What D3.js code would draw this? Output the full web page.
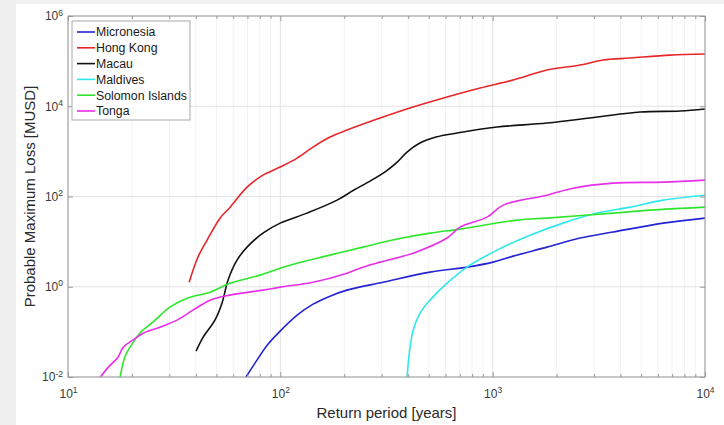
<!DOCTYPE html>
<html><head><meta charset="utf-8">
<script src="https://cdn.jsdelivr.net/npm/d3@7"></script>
<style>
body{margin:0;background:#f0f0f0;}
svg{display:block;font-family:"Liberation Sans",Arial,Helvetica,sans-serif;}
</style>
</head><body>
<svg id="chart" width="724" height="425"></svg>
<script>
// ---------- DATA ----------
const seriesNames = ["Micronesia","Hong Kong","Macau","Maldives","Solomon Islands","Tonga"];
const seriesColors = ["#2424d4","#e8262a","#111111","#2ee8ee","#2ee62e","#e82ee8"];

// [return period (years), probable maximum loss (MUSD)]
const micronesia = [[68.9,0.01],[77.6,0.0236],[86.5,0.05],[99.8,0.104],[120,0.234],[142.6,0.411],[171.4,0.619],[206,0.841],[305,1.26],[507,2.11],[757,2.72],[1004,3.51],[1248,4.77],[1803,7.55],[2580,12.0],[3690,16.3],[6350,25.7],[10000,33.2]];
const hongKong = [[37.2,1.26],[40.9,4.5],[45.2,10.8],[52,33],[58,58],[69.7,161],[82.8,298],[99.8,449],[120,710],[142.6,1245],[171.4,2073],[206,2966],[295,5475],[422,9600],[610,16000],[873,25300],[1248,38100],[1803,63500],[2580,82000],[3313,106000],[4439,117000],[6850,136000],[10000,144000]];
const macau = [[40.1,0.0373],[43.3,0.0762],[49.2,0.182],[53.1,0.432],[56.7,1.40],[62.5,3.89],[69.7,7.55],[82.8,15.4],[99.8,25.7],[133.6,42.8],[185,83],[222,139],[267,225],[315,366],[355,579],[395,965],[450,1489],[541,2075],[679,2545],[1049,3460],[1803,4240],[3104,5760],[4944,7430],[7632,7830],[10000,8670]];
const maldives = [[395,0.01],[404,0.0304],[413,0.0655],[422,0.109],[455,0.260],[507,0.505],[610,1.20],[757,2.72],[1049,6.48],[1500,13.9],[2146,25.7],[3104,42.9],[4439,58.2],[6350,83.2],[10000,107]];
const solomonIslands = [[17.6,0.01],[18.5,0.0275],[19.6,0.0458],[21.8,0.0936],[25.1,0.164],[30.2,0.353],[36.4,0.558],[46.7,0.759],[58,1.20],[80.2,1.81],[99.8,2.58],[120,3.33],[171.4,5.02],[245,7.55],[355,11.4],[507,15.4],[702,18.9],[1303,30.0],[1803,33.2],[3690,42.9],[5510,49.9],[10000,58.2]];
const tonga = [[14.2,0.01],[15.8,0.0183],[17.2,0.0275],[18.2,0.0458],[20.2,0.0655],[22.6,0.0936],[27.1,0.127],[32.6,0.182],[38.8,0.303],[46.7,0.505],[58,0.652],[82.8,0.841],[99.8,0.98],[142.6,1.26],[206,2.00],[245,2.72],[295,3.51],[422,5.56],[610,12.0],[702,21.0],[941,34.9],[1120,64.4],[1803,107],[2393,153],[3690,198],[6350,208],[10000,231]];

const seriesData = [micronesia, hongKong, macau, maldives, solomonIslands, tonga];

const xTickValues = [10,100,1000,10000];
const xTickExponents = ["1","2","3","4"];
const yTickValues = [1e-2,1e0,1e2,1e4,1e6];
const yTickExponents = ["-2","0","2","4","6"];
const xMinorTicks = [];
[10,100,1000].forEach(d => { for (let k=2;k<=9;k++) xMinorTicks.push(d*k); });

const xLabel = "Return period [years]";
const yLabel = "Probable Maximum Loss [MUSD]";

// ---------- LAYOUT ----------
const W = 724, H = 425;
const L = 68, R = 705, T = 16, B = 377;
const svg = d3.select("#chart");

svg.append("rect").attr("x",16).attr("y",4).attr("width",W-16).attr("height",H-4).attr("fill","#ffffff");

const x = d3.scaleLog().domain([10,1e4]).range([L,R]);
const y = d3.scaleLog().domain([1e-2,1e6]).range([B,T]);

// grid
const grid = svg.append("g");
grid.selectAll("line.xmin").data(xMinorTicks).enter().append("line")
  .attr("x1",d=>x(d)).attr("x2",d=>x(d)).attr("y1",T).attr("y2",B)
  .attr("stroke","#f2f2f2").attr("stroke-width",1);
grid.selectAll("line.xmaj").data(xTickValues).enter().append("line")
  .attr("x1",d=>x(d)).attr("x2",d=>x(d)).attr("y1",T).attr("y2",B)
  .attr("stroke","#e3e3e3").attr("stroke-width",1);
grid.selectAll("line.ymaj").data(yTickValues).enter().append("line")
  .attr("x1",L).attr("x2",R).attr("y1",d=>y(d)).attr("y2",d=>y(d))
  .attr("stroke","#e3e3e3").attr("stroke-width",1);

// lines
svg.append("defs").append("clipPath").attr("id","clip")
  .append("rect").attr("x",L).attr("y",T).attr("width",R-L).attr("height",B-T);
const line = d3.line().x(d=>x(d[0])).y(d=>y(d[1])).curve(d3.curveCatmullRom.alpha(0.5));
const lines = svg.append("g").attr("clip-path","url(#clip)");
seriesData.forEach((s,i) => {
  lines.append("path").datum(s).attr("d",line).attr("fill","none")
    .attr("stroke",seriesColors[i]).attr("stroke-width",1.6).attr("stroke-linejoin","round");
});

// axes
const axisColor = "#9a9a9a";
function styleAxis(g){
  g.select(".domain").remove();
  g.selectAll(".tick line").attr("stroke",axisColor);
}
function supLabels(g, exps, vals){
  g.selectAll(".tick text").each(function(d){
    const i = vals.indexOf(d);
    const t = d3.select(this);
    t.text("10").attr("fill","#3a3a3a").attr("font-size","12px");
    t.append("tspan").attr("dy","-0.55em").attr("font-size","8.5px").text(exps[i]);
  });
}
const xAxisB = svg.append("g").attr("transform",`translate(0,${B})`)
  .call(d3.axisBottom(x).tickValues(xTickValues).tickSize(-5).tickPadding(12).tickFormat(()=>"x"));
styleAxis(xAxisB); supLabels(xAxisB, xTickExponents, xTickValues);
const xMinB = svg.append("g").attr("transform",`translate(0,${B})`)
  .call(d3.axisBottom(x).tickValues(xMinorTicks).tickSize(-3).tickFormat(""));
styleAxis(xMinB);
const xAxisT = svg.append("g").attr("transform",`translate(0,${T})`)
  .call(d3.axisTop(x).tickValues(xTickValues).tickSize(-5).tickFormat(""));
styleAxis(xAxisT);
const xMinT = svg.append("g").attr("transform",`translate(0,${T})`)
  .call(d3.axisTop(x).tickValues(xMinorTicks).tickSize(-3).tickFormat(""));
styleAxis(xMinT);
const yAxisL = svg.append("g").attr("transform",`translate(${L},0)`)
  .call(d3.axisLeft(y).tickValues(yTickValues).tickSize(-5).tickPadding(5).tickFormat(()=>"x"));
styleAxis(yAxisL); supLabels(yAxisL, yTickExponents, yTickValues);
const yAxisR = svg.append("g").attr("transform",`translate(${R},0)`)
  .call(d3.axisRight(y).tickValues(yTickValues).tickSize(-5).tickFormat(""));
styleAxis(yAxisR);
svg.selectAll(".tick text").attr("font-family",null);

// box
svg.append("rect").attr("x",L).attr("y",T).attr("width",R-L).attr("height",B-T)
  .attr("fill","none").attr("stroke",axisColor).attr("stroke-width",1);

// axis labels
svg.append("text").attr("x",(L+R)/2).attr("y",418).attr("text-anchor","middle")
  .attr("font-size","15px").attr("fill","#2a2a2a").text(xLabel);
svg.append("text").attr("transform",`translate(35,${(T+B)/2}) rotate(-90)`).attr("text-anchor","middle")
  .attr("font-size","15px").attr("fill","#2a2a2a").text(yLabel);

// legend
const lg = svg.append("g");
lg.append("rect").attr("x",72).attr("y",21).attr("width",118).attr("height",99)
  .attr("fill","#ffffff").attr("stroke","#a8a8a8").attr("stroke-width",1);
seriesNames.forEach((n,i) => {
  const yy = 32 + i*15.8;
  lg.append("line").attr("x1",77).attr("x2",95).attr("y1",yy).attr("y2",yy)
    .attr("stroke",seriesColors[i]).attr("stroke-width",1.6);
  lg.append("text").attr("x",96).attr("y",yy+4.3).attr("font-size","12.3px")
    .attr("fill","#1a1a1a").text(n);
});
</script>
</body></html>
